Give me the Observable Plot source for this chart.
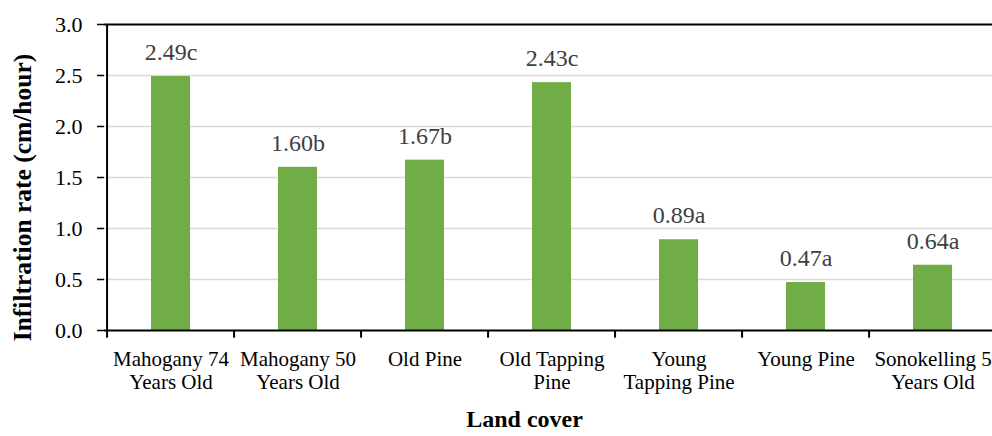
<!DOCTYPE html>
<html>
<head>
<meta charset="utf-8">
<script src="https://cdn.jsdelivr.net/npm/d3@7"></script>
<script src="https://cdn.jsdelivr.net/npm/@observablehq/plot@0.6"></script>
<style>
  html, body { margin: 0; padding: 0; background: #fff; overflow: hidden; }
  #chart { width: 992px; height: 436px; }
  #chart svg, #chart svg text { font-family: "Liberation Serif", "Times New Roman", serif !important; font-variant: normal !important; }
</style>
</head>
<body>
<div id="chart"></div>
<script>
const categories = [
  "Mahogany 74\nYears Old",
  "Mahogany 50\nYears Old",
  "Old Pine",
  "Old Tapping\nPine",
  "Young\nTapping Pine",
  "Young Pine",
  "Sonokelling 5\nYears Old"
];
const values = [2.49, 1.60, 1.67, 2.43, 0.89, 0.47, 0.64];
const letters = ["c", "b", "b", "c", "a", "a", "a"];
const yTicks = [0, 0.5, 1.0, 1.5, 2.0, 2.5, 3.0];
const gridTicks = [0.5, 1.0, 1.5, 2.0, 2.5];

const data = categories.map((c, i) => ({cat: c, value: values[i], label: values[i].toFixed(2) + letters[i]}));

const W = 992, H = 436;
const xRange = [104, 999];
const step = (xRange[1] - xRange[0]) / categories.length;

const plot = Plot.plot({
  width: W,
  height: H,
  marginLeft: 104,
  marginRight: 0,
  marginTop: 24,
  marginBottom: 106,
  style: {background: "#fff", overflow: "hidden"},
  x: {domain: categories, range: xRange, paddingInner: 0.69, paddingOuter: 0.345, label: null},
  y: {domain: [0, 3], label: null},
  marks: [
    Plot.ruleY(gridTicks, {stroke: "#d9d9d9", strokeWidth: 1.5}),
    Plot.ruleY([3], {stroke: "#000", strokeWidth: 2}),
    Plot.barY(data, {x: "cat", y: "value", fill: "#70AD47"}),
    Plot.ruleY([0], {stroke: "#000", strokeWidth: 2}),
    Plot.ruleX([categories[0]], {dx: -step / 2, stroke: "#000", strokeWidth: 2}),
    Plot.ruleX(categories, {x: d => d, dx: -step / 2, y1: 0, y2: -0.075, stroke: "#000", strokeWidth: 2}),
    Plot.text(data, {x: "cat", y: "value", text: "label", dy: -24, fill: "#404040", fontSize: 24}),
    Plot.axisY({ticks: yTicks, tickFormat: d3.format(".1f"), tickSize: 7, tickPadding: 15, fontSize: 22, stroke: "#000", strokeWidth: 1.5, color: "#000", label: null}),
    Plot.axisX({tickSize: 0, tickPadding: 18, fontSize: 21, lineHeight: 1.14, color: "#000", label: null}),
    Plot.text(["Infiltration rate (cm/hour)"], {frameAnchor: "left", textAnchor: "middle", rotate: -90, dx: -82, dy: 20, fontWeight: "bold", fontSize: 25.5, fill: "#000"}),
    Plot.text(["Land cover"], {frameAnchor: "bottom", textAnchor: "middle", dx: -24, dy: 96, fontWeight: "bold", fontSize: 24, fill: "#000"})
  ]
});
document.getElementById("chart").appendChild(plot);
</script>
</body>
</html>
